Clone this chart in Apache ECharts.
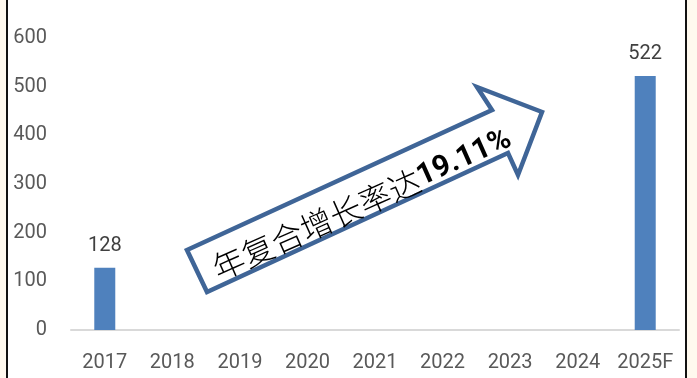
<!DOCTYPE html>
<html>
<head>
<meta charset="utf-8">
<script src="https://cdn.jsdelivr.net/npm/echarts@6/dist/echarts.min.js"></script>
<style>
  html, body { margin: 0; padding: 0; background: #fff9ee; }
  #wrap { position: relative; width: 697px; height: 378px; background: #fff9ee; }
  #frame { position: absolute; left: 6px; top: 0; width: 677px; height: 378px;
           border-left: 2px solid #111; border-right: 2px solid #111; background: #fff; }
  #chart { position: absolute; left: 0; top: 0; width: 697px; height: 378px; }
</style>
</head>
<body>
<div id="wrap">
  <div id="frame"></div>
  <div id="chart"></div>
</div>
<script>
// Market size by year (2025 is a forecast)
const categories = ['2017', '2018', '2019', '2020', '2021', '2022', '2023', '2024', '2025F'];
const values = [128, null, null, null, null, null, null, null, 522];
const yTicks = [0, 100, 200, 300, 400, 500, 600];
const growthLabel = '年复合增长率达';
const growthRate = '19.11%';

const chart = echarts.init(document.getElementById('chart'), null, { renderer: 'canvas' });
const labelFont = 'Roboto, "Liberation Sans", sans-serif';

chart.setOption({
  backgroundColor: 'transparent',
  animation: false,
  grid: { left: 71, right: 18, top: 38, bottom: 48 },
  xAxis: {
    type: 'category',
    data: categories,
    axisLine: { lineStyle: { color: '#d9d9d9', width: 2 } },
    axisTick: { show: false },
    axisLabel: {
      interval: 0,
      hideOverlap: false,
      color: '#595959',
      fontSize: 20,
      fontFamily: labelFont,
      margin: 23
    }
  },
  yAxis: {
    type: 'value',
    min: yTicks[0],
    max: yTicks[yTicks.length - 1],
    interval: 100,
    axisLine: { show: false },
    axisTick: { show: false },
    splitLine: { show: false },
    axisLabel: { color: '#595959', fontSize: 20, fontFamily: labelFont, margin: 24 }
  },
  series: [{
    type: 'bar',
    data: values,
    barWidth: 21,
    itemStyle: { color: '#4f81bd' },
    label: {
      show: true,
      position: 'top',
      distance: 12,
      color: '#404040',
      fontSize: 20,
      fontFamily: labelFont
    }
  }],
  graphic: [
    {
      // growth arrow
      type: 'polygon',
      z: 100,
      shape: {
        points: [
          [187, 250], [492, 110], [477, 87], [542, 112],
          [518, 175], [508, 153], [207, 292]
        ]
      },
      style: { fill: '#fff', stroke: '#3f6597', lineWidth: 4.5, lineJoin: 'miter' }
    },
    {
      type: 'text',
      z: 101,
      x: 362,
      y: 204,
      rotation: 24 * Math.PI / 180,
      style: {
        text: '{a|' + growthLabel + '}{b|' + growthRate + '}',
        align: 'center',
        verticalAlign: 'middle',
        rich: {
          a: { fontSize: 32, fontWeight: 300, fontFamily: '"Noto Sans CJK SC", sans-serif', color: '#000' },
          b: { fontSize: 30, fontWeight: 'bold', fontFamily: 'Roboto, "Liberation Sans", sans-serif', color: '#000' }
        }
      }
    }
  ]
});
</script>
</body>
</html>
